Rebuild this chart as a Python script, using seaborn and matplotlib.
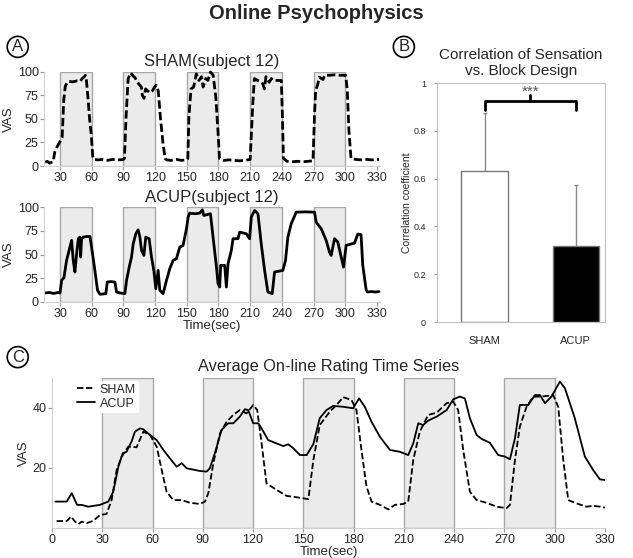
import numpy as np
import pandas as pd
import matplotlib
matplotlib.use('Agg')
import seaborn as sns
import matplotlib.pyplot as plt

# block design (stimulation on for 30 s)
block_starts = [30, 90, 150, 210, 270]
block_len = 30

# panel A: single subject ratings (time, VAS)
sham_subj = [(16, 4), (18, 5), (20, 3), (22, 4), (23.5, 4.5), (25, 15), (27, 20), (29, 24), (30.5, 27),
             (32, 30), (33.5, 70), (35, 85), (36.5, 88), (38, 90), (42, 89.5), (46, 90.5), (49, 90),
             (51, 93), (53, 95), (54, 96.5), (55, 91), (56.5, 72), (58, 50), (59.5, 34), (61, 10),
             (62, 7), (66, 6.5), (70, 7), (75, 6), (80, 7), (85, 6.5), (90, 7), (91, 8), (92.5, 52),
             (94.5, 93), (97, 99), (99, 96), (101, 94), (102.5, 91), (104, 88), (105.5, 86), (107, 84),
             (108, 75), (109.5, 72), (111, 82), (113, 80), (115, 78), (117.5, 80), (119.5, 84), (121, 86),
             (123, 80), (125, 52), (127.5, 24), (129.5, 8), (131, 6.5), (135, 6), (140, 7), (145, 6),
             (150, 6.5), (151, 8), (152, 52), (154, 82), (156.5, 84), (159, 98), (161.5, 91), (164, 95),
             (165.5, 84), (168, 93), (170, 91), (172.5, 100), (175, 96.5), (177.5, 73), (179.5, 38),
             (181, 8), (185, 6), (190, 6.5), (195, 6), (200, 5.5), (205, 6), (210, 7), (211, 30),
             (212.5, 66), (214, 93), (217, 91), (219, 90), (222, 87.5), (223.5, 82), (225, 95), (228, 89),
             (230, 93), (232, 91), (236, 91), (239.5, 91), (240.5, 56), (241.5, 8), (245, 5), (250, 4.5),
             (255, 5), (260, 4.5), (265, 5), (269.5, 5.5), (271, 56), (272, 80), (274, 87), (275.5, 94.5),
             (279, 92), (280.5, 96.5), (285, 96.5), (290, 97), (295, 96.5), (300.5, 96.5), (302, 80),
             (303.5, 38), (305.5, 8), (310, 7), (315, 6.5), (320, 7), (325, 6.5), (330, 7), (332, 7)]

acup_subj = [(16, 9.5), (20, 10), (24, 9), (28, 10), (30, 9.5), (31.5, 22.8), (33.7, 25.6), (36.2, 43.9),
             (39.4, 57.9), (41, 65), (42.5, 43.9), (44.1, 31.6), (45.7, 50.9), (47.3, 66.7), (48.8, 68.4),
             (49.5, 47.4), (50.4, 66.7), (52, 68.4), (55, 69), (58.3, 69.1), (60.8, 50.9), (63, 33.3),
             (65.5, 12.3), (67.8, 8.1), (71, 8.5), (73.4, 8.8), (74.7, 21), (78, 21.5), (82, 21),
             (83.5, 10.5), (87, 9.5), (91.4, 8.8), (93, 22.8), (95.5, 36.8), (97.7, 47.4), (99.3, 61.4),
             (101.8, 71.9), (104, 76.1), (105.6, 68.4), (107.2, 54.4), (109.4, 49.1), (111.2, 68.4),
             (114.4, 66.7), (116.6, 47.4), (118.8, 33.3), (120.7, 14), (122.9, 33.3), (124.5, 12.3),
             (127.6, 8.8), (130.8, 22.8), (133.9, 35.1), (137.1, 43.9), (140.2, 45.6), (143.4, 57.9),
             (146.5, 59.6), (149.7, 77.2), (151.3, 89.5), (152.8, 93.7), (158, 93), (162.3, 93.7),
             (164.8, 97.2), (166.1, 91.2), (172.4, 93), (174.9, 68.4), (178.1, 36.8), (179.6, 19.3),
             (181.2, 15.8), (182.1, 38.6), (185.9, 38.6), (187.5, 15.8), (189.1, 40.4), (192.2, 54.4),
             (193.8, 66.7), (198.5, 66.7), (200.1, 73.7), (206.4, 71.9), (209.5, 66.7), (211.1, 89.5),
             (214.2, 96.5), (217.4, 93), (220.5, 61.4), (223.7, 33.3), (226.8, 10.5), (230.9, 8.8),
             (233.1, 31.6), (241, 33.3), (243.5, 43.9), (245.7, 68.4), (248.9, 82.5), (253.6, 94.7),
             (262, 95), (271, 94.7), (272.5, 84.2), (277.3, 77.2), (282, 64.9), (285.1, 52.6),
             (286.7, 49.1), (289.9, 66.7), (293, 63.2), (296.2, 47.4), (298.4, 36.8), (300.9, 59.6),
             (305, 61), (308.8, 62), (311.9, 71.6), (315, 71), (316.6, 39), (319.8, 13), (321, 10.5),
             (325, 11), (329, 10.5), (332, 11)]

# panel B: correlation with block design
groups = ['SHAM', 'ACUP']
corr_mean = [0.63, 0.32]
corr_sd = [0.245, 0.255]
corr_ticks = [0, 0.2, 0.4, 0.6, 0.8, 1]
corr_ticklabels = ['0', '0.2', '0.4', '0.6', '0.8', '1']

# panel C: group average ratings
sham_avg = [(2.8, 2.3), (8.8, 2.3), (11.4, 3.8), (13.8, 2.1), (15.8, 1.3), (17.7, 2.1), (20.7, 1.6),
            (24.7, 2.4), (28.6, 4.3), (32.6, 4.7), (35.6, 9.3), (38.6, 19.3), (41.6, 23.8), (45.5, 27.1),
            (50.5, 26.9), (54.5, 32.1), (58.5, 31), (62.5, 27.1), (65.5, 19.3), (68.4, 12.1), (72.4, 9.3),
            (77.4, 9.3), (82.4, 8.4), (88.3, 8), (91.3, 8.8), (93.3, 11.6), (96.3, 21.6), (100.3, 31.6),
            (104.2, 35.4), (108.2, 37.7), (112.1, 39.3), (116.1, 38.2), (120.1, 41), (122.5, 39.3),
            (125.1, 28.2), (128, 14.9), (134, 12.7), (140, 10.7), (144, 10.4), (150, 9.9), (153, 9.6),
            (156, 22.7), (159.8, 34.3), (165.8, 38.8), (169.8, 41), (173.8, 43.6), (178.7, 42.7),
            (181.7, 39.3), (184.7, 26), (187.7, 13.8), (190.7, 8.8), (195.7, 7.7), (200.7, 6.2),
            (204.6, 7.7), (209.6, 8), (212.6, 8.8), (215.6, 22.7), (219.5, 32.1), (224.5, 37.7),
            (229.5, 38.4), (235.5, 41.6), (239.5, 42.1), (242.4, 39.3), (245.4, 26), (249.4, 12.1),
            (253.4, 9.3), (259.3, 8.4), (265.3, 7.1), (271.3, 6.6), (273.3, 7.7), (276.3, 22.7),
            (279.2, 33.8), (283.2, 40.4), (287.2, 43.8), (291.2, 43.8), (295.2, 44), (299.1, 44.3),
            (302.1, 40.4), (305.1, 22.7), (308.1, 9.3), (313, 8.2), (319, 7.1), (323, 7.4), (327, 7.1),
            (330, 6.8)]

acup_avg = [(2, 8.8), (8.8, 8.8), (11.8, 11.6), (15, 7.7), (17.7, 7.7), (21.7, 7.1), (28.6, 7.7),
            (33.6, 8.8), (36.6, 12.1), (39.6, 20.4), (42.2, 24.9), (44.5, 25.4), (47.5, 28.8),
            (49.5, 32.1), (52.5, 33.2), (54.5, 32.9), (58.5, 31), (62.5, 29.3), (66.5, 26), (70.4, 23.2),
            (74.4, 20.4), (77.4, 21.6), (80.4, 19.9), (88.3, 19), (92.3, 18.8), (94.2, 19.9), (97.2, 24.9),
            (101.2, 32.7), (105.2, 34.9), (108.2, 34.9), (112.1, 37.1), (115.1, 39.6), (117.1, 39.3),
            (120.1, 34.9), (123.1, 34.9), (125.1, 33.2), (129, 29.3), (134, 28.2), (138, 27.3), (141, 27.9),
            (144, 26.6), (148, 24.3), (152, 24.3), (156, 28), (159.8, 36.6), (163.8, 39.3), (167.8, 40.7),
            (173.8, 40.4), (179.7, 39.9), (183.3, 43.2), (186.7, 40.4), (190.7, 35.4), (195.7, 30.4),
            (201.7, 26), (207.6, 25.4), (212.6, 24.3), (215.6, 28.2), (218.6, 34.9), (221.5, 34.3),
            (224.5, 35.8), (229.5, 37.1), (235.5, 39.3), (239.5, 42.9), (243.4, 43.8), (246.4, 43.2),
            (249.4, 36.6), (253.4, 31), (256.4, 29.7), (261.3, 28.4), (266.3, 24.3), (270.3, 23.8),
            (273.3, 22.9), (276.3, 29.9), (279.2, 41), (284.2, 41), (288.2, 44.3), (291.2, 44.3),
            (294.2, 41.6), (298.1, 43.8), (303.1, 48.8), (306.1, 46.6), (312, 36.6), (318, 23.8),
            (323, 19.3), (327, 16.2), (330, 16)]

time_ticks_a = list(range(30, 331, 30))
time_ticks_c = list(range(0, 331, 30))

sns.set_style('white')
plt.rcParams['font.family'] = ['Liberation Sans', 'DejaVu Sans']

GRAY = '#a8a8a8'
SHADE = '#ebebeb'


def to_df(pairs):
    return pd.DataFrame(pairs, columns=['t', 'v'])


def shade_blocks(ax):
    for s in block_starts:
        ax.axvspan(s, s + block_len, facecolor=SHADE, edgecolor=GRAY, lw=1, zorder=0)


def style_axes(ax, size=9):
    for side in ['top', 'right']:
        ax.spines[side].set_visible(False)
    for side in ['left', 'bottom']:
        ax.spines[side].set_color('#d0d0d0')
    ax.tick_params(axis='both', labelsize=size, length=3, color='#999999', pad=1, left=True, bottom=True)


def circle_label(x, y, txt):
    fig.text(x, y, txt, fontsize=12, ha='center', va='center',
             bbox=dict(boxstyle='circle,pad=0.18', fc='white', ec='black', lw=1.2))


fig = plt.figure(figsize=(6.33, 5.58), dpi=100)
fig.text(0.5, 0.975, 'Online Psychophysics', fontsize=14.5, fontweight='bold', ha='center', va='center')

# ---- panel A: single subject
ax1 = fig.add_axes([0.0698, 0.7025, 0.5306, 0.1685])
ax2 = fig.add_axes([0.0698, 0.4588, 0.5306, 0.1700])
for ax, pairs, ls, title in [(ax1, sham_subj, (0, (3, 1.2)), 'SHAM(subject 12)'),
                             (ax2, acup_subj, '-', 'ACUP(subject 12)')]:
    shade_blocks(ax)
    sns.lineplot(data=to_df(pairs), x='t', y='v', ax=ax, color='black', lw=2.0,
                 linestyle=ls, clip_on=False)
    ax.set_xlim(15, 333)
    ax.set_ylim(0, 100)
    ax.set_xticks(time_ticks_a)
    ax.set_yticks([0, 25, 50, 75, 100])
    ax.set_ylabel('VAS', fontsize=9.5, labelpad=2)
    ax.set_xlabel('')
    ax.set_title(title, fontsize=12, pad=4)
    style_axes(ax)
ax2.set_xlabel('Time(sec)', fontsize=9.5, labelpad=0)

# ---- panel B: correlation bars
axb = fig.add_axes([0.6904, 0.4229, 0.2654, 0.4283])
bar_df = pd.DataFrame({'group': groups, 'r': corr_mean})
sns.barplot(data=bar_df, x='group', y='r', ax=axb, hue='group', palette=['white', 'black'],
            edgecolor='#777777', lw=1, width=0.51, errorbar=None, legend=False)
axb.errorbar(range(len(groups)), corr_mean, yerr=corr_sd, fmt='none', ecolor='#888888',
             elinewidth=1, capsize=1.5, zorder=1)
for bar in axb.patches:
    bar.set_zorder(2)
axb.set_xlim(-0.52, 1.32)
axb.set_ylim(0, 1)
axb.set_yticks(corr_ticks)
axb.set_yticklabels(corr_ticklabels)
axb.set_xlabel('')
axb.set_ylabel('Correlation coefficient', fontsize=7.5, labelpad=1)
axb.tick_params(axis='y', labelsize=6.5, length=2, color='#999999', pad=6, left=True)
axb.tick_params(axis='x', labelsize=8, length=0, pad=10)
for side in axb.spines.values():
    side.set_color('#c0c0c0')
axb.plot([0, 0, 1, 1], [0.887, 0.926, 0.926, 0.887], color='black', lw=2, clip_on=False, zorder=3)
axb.plot([0.5, 0.5], [0.926, 0.95], color='black', lw=2, clip_on=False, zorder=3)
axb.text(0.5, 0.965, '***', fontsize=11, color='#555555', ha='center', va='center')
axb.set_title('Correlation of Sensation\nvs. Block Design', fontsize=11, pad=6, linespacing=1.15)

# ---- panel C: average time series
axc = fig.add_axes([0.0821, 0.0538, 0.8736, 0.2688])
shade_blocks(axc)
sns.lineplot(data=to_df(sham_avg), x='t', y='v', ax=axc, color='black', lw=1.3,
             linestyle=(0, (3.5, 1.5)), label='SHAM')
sns.lineplot(data=to_df(acup_avg), x='t', y='v', ax=axc, color='black', lw=1.3, label='ACUP')
axc.set_xlim(0, 330)
axc.set_ylim(0, 50)
axc.set_xticks(time_ticks_c)
axc.set_yticks([20, 40])
axc.set_ylabel('VAS', fontsize=9.5, labelpad=2)
axc.set_xlabel('Time(sec)', fontsize=9.5, labelpad=0)
axc.set_title('Average On-line Rating Time Series', fontsize=11.8, pad=5)
style_axes(axc)
leg = axc.legend(loc='upper left', bbox_to_anchor=(0.03, 1.02), fontsize=9, frameon=True,
                 handlelength=1.4, handletextpad=0.4, borderpad=0.2, labelspacing=0.15)
leg.get_frame().set_facecolor('white')
leg.get_frame().set_edgecolor('white')
leg.get_frame().set_alpha(1)

circle_label(0.028, 0.916, 'A')
circle_label(0.638, 0.916, 'B')
circle_label(0.028, 0.360, 'C')

fig.savefig('out.png', dpi=100)
